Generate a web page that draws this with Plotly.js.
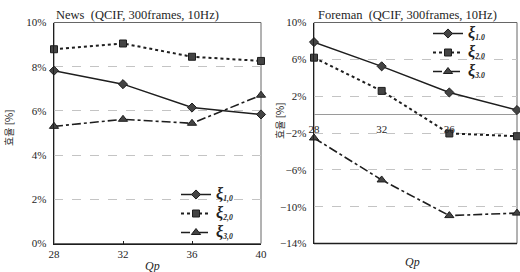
<!DOCTYPE html>
<html>
<head>
<meta charset="utf-8">
<script src="https://cdn.plot.ly/plotly-3.0.1.min.js"></script>
<style>html,body{margin:0;padding:0;background:#fff;}#chart{width:520px;height:272px;}</style>
</head>
<body>
<div id="chart"></div>
<script>
// ---- data ----
const qp = [28, 32, 36, 40];
const qpTicks = ["28", "32", "36", "40"];
const subsLeft = ["1,0", "2,0", "3,0"];
const subsRight = ["1.0", "2.0", "3.0"];
// News (QCIF, 300frames, 10Hz) — efficiency [%]
const news_xi1 = [7.82, 7.21, 6.15, 5.84];
const news_xi2 = [8.79, 9.05, 8.45, 8.26];
const news_xi3 = [5.30, 5.62, 5.44, 6.71];
// Foreman (QCIF, 300frames, 10Hz) — efficiency [%]
const fore_xi1 = [7.87, 5.24, 2.40, 0.49];
const fore_xi2 = [6.18, 2.57, -2.05, -2.35];
const fore_xi3 = [-2.54, -7.10, -10.97, -10.70];
const leftTitle = "News  (QCIF, 300frames, 10Hz)";
const rightTitle = "Foreman  (QCIF, 300frames, 10Hz)";
const yTitle = "효율 [%]";
const xTitle = "Qp";

const xiName = s => '<span style="font-size:16px"><b><i>ξ</i></b></span><sub><b><i>' + s + '</i></b></sub>';
const seriesNames = subsLeft.map(xiName);
const seriesNamesRight = subsRight.map(xiName);

// ---- styles ----
const ink = "#1e1e1e";
const serif = "Liberation Serif, DejaVu Serif, serif";
const styles = [
  {line: {color: ink, width: 1.5, dash: "solid"}, marker: {symbol: "diamond", size: 7, color: "#444", line: {color: ink, width: 1}}},
  {line: {color: ink, width: 2, dash: "dot"}, marker: {symbol: "square", size: 7, color: "#444", line: {color: ink, width: 1}}},
  {line: {color: ink, width: 1.6, dash: "dashdot"}, marker: {symbol: "triangle-up", size: 8, color: "#444", line: {color: ink, width: 1}}}
];

function mk(y, i, xa, ya, names, leg) {
  return {
    x: qp, y: y, type: "scatter", mode: "lines+markers",
    name: names[i], xaxis: xa, yaxis: ya, legend: leg,
    line: styles[i].line, marker: styles[i].marker, cliponaxis: false
  };
}
const data = [
  mk(news_xi1, 0, "x", "y", seriesNames, "legend"),
  mk(news_xi2, 1, "x", "y", seriesNames, "legend"),
  mk(news_xi3, 2, "x", "y", seriesNames, "legend"),
  mk(fore_xi1, 0, "x2", "y2", seriesNamesRight, "legend2"),
  mk(fore_xi2, 1, "x2", "y2", seriesNamesRight, "legend2"),
  mk(fore_xi3, 2, "x2", "y2", seriesNamesRight, "legend2")
];

const W = 520, H = 272;
const ydom = [1 - 243.5 / H, 1 - 22.5 / H];
const tickFont = {family: serif, size: 11, color: ink};
const grid = {showgrid: true, gridcolor: "#c4c4c4", griddash: "dash", gridwidth: 1};
const legFont = {family: serif, size: 11, color: ink};

const layout = {
  width: W, height: H,
  margin: {l: 0, r: 0, t: 0, b: 0},
  paper_bgcolor: "#fff", plot_bgcolor: "#fff",
  font: {family: serif, color: ink},
  xaxis: {
    domain: [54 / W, 261 / W], range: [28, 40], tickvals: qp, ticktext: qpTicks,
    anchor: "y", showline: true, linecolor: ink, linewidth: 1.5,
    ticks: "inside", ticklen: 3, tickcolor: ink, showgrid: false, zeroline: false,
    tickfont: tickFont
  },
  yaxis: Object.assign({
    domain: ydom, range: [0, 10], tick0: 0, dtick: 2, ticksuffix: "%",
    anchor: "x", showline: true, linecolor: ink, linewidth: 1.5,
    ticks: "outside", ticklen: 4, tickcolor: "rgba(0,0,0,0)", zeroline: false,
    tickfont: tickFont
  }, grid),
  xaxis2: {
    domain: [314 / W, 517 / W], range: [28, 40], tickvals: qp, ticktext: qpTicks,
    anchor: "free", position: 1 - 121 / H, showline: false, ticks: "",
    showgrid: false, zeroline: false, tickfont: tickFont
  },
  yaxis2: Object.assign({
    domain: ydom, range: [-14, 10], tick0: -14, dtick: 4, ticksuffix: "%",
    anchor: "x2", showline: true, linecolor: ink, linewidth: 1.5,
    ticks: "outside", ticklen: 4, tickcolor: "rgba(0,0,0,0)",
    zeroline: true, zerolinecolor: "#9a9a9a", zerolinewidth: 1,
    tickfont: tickFont
  }, grid),
  showlegend: true,
  legend: {
    x: 176 / W, y: 1 - 180 / H, xanchor: "left", yanchor: "top",
    bgcolor: "rgba(255,255,255,0)", font: legFont,
    tracegroupgap: 0, itemwidth: 30
  },
  legend2: {
    x: 428 / W, y: 1 - 19 / H, xanchor: "left", yanchor: "top",
    bgcolor: "rgba(255,255,255,0)", font: legFont,
    tracegroupgap: 0, itemwidth: 30
  },
  shapes: [
    {type: "rect", xref: "x domain", yref: "y domain", x0: 0, x1: 1, y0: 0, y1: 1, line: {color: "#666", width: 1}, layer: "below"},
    {type: "rect", xref: "x2 domain", yref: "y2 domain", x0: 0, x1: 1, y0: 0, y1: 1, line: {color: "#666", width: 1}, layer: "below"},
    {type: "line", xref: "x2 domain", yref: "y2 domain", x0: 0, x1: 1, y0: 0, y1: 0, line: {color: ink, width: 1.5}}
  ],
  annotations: [
    {text: leftTitle, xref: "paper", yref: "paper", x: 54 / W, y: 1 - 15 / H, xanchor: "left", yanchor: "middle", showarrow: false, font: {family: serif, size: 12.5, color: ink}},
    {text: rightTitle, xref: "paper", yref: "paper", x: 316 / W, y: 1 - 15 / H, xanchor: "left", yanchor: "middle", showarrow: false, font: {family: serif, size: 12.5, color: ink}},
    {text: "<i>" + xTitle + "</i>", xref: "paper", yref: "paper", x: 152 / W, y: 1 - 266 / H, xanchor: "center", yanchor: "middle", showarrow: false, font: {family: serif, size: 12, color: ink}},
    {text: "<i>" + xTitle + "</i>", xref: "paper", yref: "paper", x: 412 / W, y: 1 - 262 / H, xanchor: "center", yanchor: "middle", showarrow: false, font: {family: serif, size: 12, color: ink}},
    {text: yTitle, textangle: -90, xref: "paper", yref: "paper", x: 8 / W, y: 1 - 128 / H, xanchor: "center", yanchor: "middle", showarrow: false, font: {family: "Noto Sans CJK KR, sans-serif", size: 10, color: ink}},
    {text: yTitle, textangle: -90, xref: "paper", yref: "paper", x: 279 / W, y: 1 - 121 / H, xanchor: "center", yanchor: "middle", showarrow: false, font: {family: "Noto Sans CJK KR, sans-serif", size: 10, color: ink}}
  ]
};

Plotly.newPlot("chart", data, layout, {staticPlot: true, displayModeBar: false});
</script>
</body>
</html>
